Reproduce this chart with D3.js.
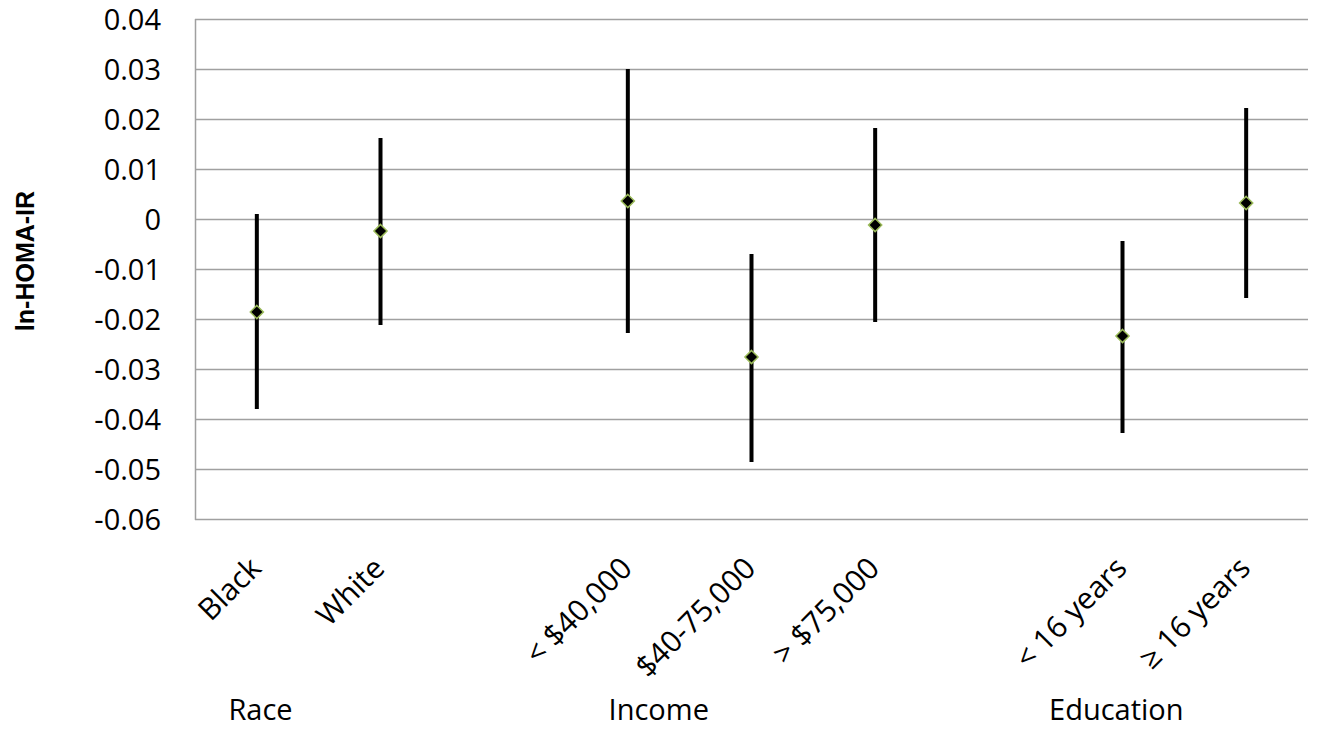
<!DOCTYPE html>
<meta charset="utf-8">
<title>ln-HOMA-IR by group</title>
<script src="https://d3js.org/d3.v7.min.js"></script>
<style>
    body { margin: 0; background: #fff; }
    text { font-family: "Open Sans", "Noto Sans", sans-serif; fill: #000; }
</style>
<body>
<script>
    // slots on the x axis; empty strings are the spacer slots between groups
    var slots = ["Black", "White", "", "< $40,000", "$40-75,000", "> $75,000", "", "< 16 years", "\u2265 16 years"];
    var categories = ["Black", "White", "< $40,000", "$40-75,000", "> $75,000", "< 16 years", "\u2265 16 years"];
    var estimate = [-0.0186, -0.0024, 0.0036, -0.0276, -0.0012, -0.0234, 0.0032];
    var upper = [0.001, 0.0162, 0.030, -0.007, 0.0182, -0.0044, 0.0222];
    var lower = [-0.038, -0.0212, -0.0228, -0.0486, -0.0206, -0.0428, -0.0158];
    var groups = ["Race", "Income", "Education"];
    // where each group label sits, in slot units
    var groupSlot = [0.03, 3.25, 6.95];
    var yTicks = [0.04, 0.03, 0.02, 0.01, 0, -0.01, -0.02, -0.03, -0.04, -0.05, -0.06];

    var W = 1318, H = 731;
    var m = { left: 195, right: 10, top: 19, bottom: 212 };

    var svg = d3.select("body").append("svg").attr("width", W).attr("height", H);

    var x = d3.scaleBand().domain(d3.range(slots.length)).range([m.left, W - m.right]);
    var y = d3.scaleLinear().domain([-0.06, 0.04]).range([H - m.bottom, m.top]);
    var xc = function (name) { return x(slots.indexOf(name)) + x.bandwidth() / 2; };
    var xs = d3.scaleLinear().domain([0, slots.length - 1]).range([xc("Black"), xc("\u2265 16 years")]);

    // gridlines
    svg.append("g").selectAll("line")
        .data(yTicks)
        .enter().append("line")
        .attr("x1", m.left).attr("x2", W - m.right)
        .attr("y1", d => y(d) + 0.5).attr("y2", d => y(d) + 0.5)
        .attr("stroke", "#a0a0a0").attr("stroke-width", 1.5);

    // left axis line
    svg.append("line")
        .attr("x1", m.left + 0.5).attr("x2", m.left + 0.5)
        .attr("y1", y(0.04)).attr("y2", y(-0.06) + 1)
        .attr("stroke", "#a0a0a0").attr("stroke-width", 1.5);

    // y tick labels (plain hyphen for minus, like the original)
    var fmt = d => d === 0 ? "0" : d3.format(".2f")(d).replace("\u2212", "-");
    svg.append("g").selectAll("text")
        .data(yTicks)
        .enter().append("text")
        .attr("x", 161).attr("y", d => y(d))
        .attr("dy", "0.37em")
        .attr("text-anchor", "end")
        .style("font-size", "29px")
        .text(fmt);

    // y title
    svg.append("text")
        .attr("transform", "translate(34,261) rotate(-90)")
        .attr("text-anchor", "middle")
        .style("font-family", "'Liberation Sans', Arial, sans-serif")
        .style("font-size", "25px").style("font-weight", "bold")
        .text("ln-HOMA-IR");

    // error bars
    var rows = categories.map((c, i) => ({ name: c, est: estimate[i], hi: upper[i], lo: lower[i] }));
    svg.append("g").selectAll("line")
        .data(rows)
        .enter().append("line")
        .attr("x1", d => xc(d.name)).attr("x2", d => xc(d.name))
        .attr("y1", d => y(d.hi)).attr("y2", d => y(d.lo))
        .attr("stroke", "#000").attr("stroke-width", 4);

    // markers
    var diamond = d3.symbol().type(d3.symbolDiamond2).size(110);
    svg.append("g").selectAll("path")
        .data(rows)
        .enter().append("path")
        .attr("d", diamond)
        .attr("transform", d => "translate(" + xc(d.name) + "," + y(d.est) + ")")
        .attr("fill", "#000").attr("stroke", "#9bbb59").attr("stroke-width", 1.5);

    // rotated category labels
    svg.append("g").selectAll("text")
        .data(categories)
        .enter().append("text")
        .attr("transform", d => "translate(" + (xc(d) + 6) + ",570) rotate(-45)")
        .attr("text-anchor", "end")
        .style("font-size", "30px")
        .text(d => d);

    // group labels
    svg.append("g").selectAll("text")
        .data(groups)
        .enter().append("text")
        .attr("x", (g, i) => xs(groupSlot[i]))
        .attr("y", 720)
        .attr("text-anchor", "middle")
        .style("font-size", "29px")
        .text(d => d);
</script>
</body>
